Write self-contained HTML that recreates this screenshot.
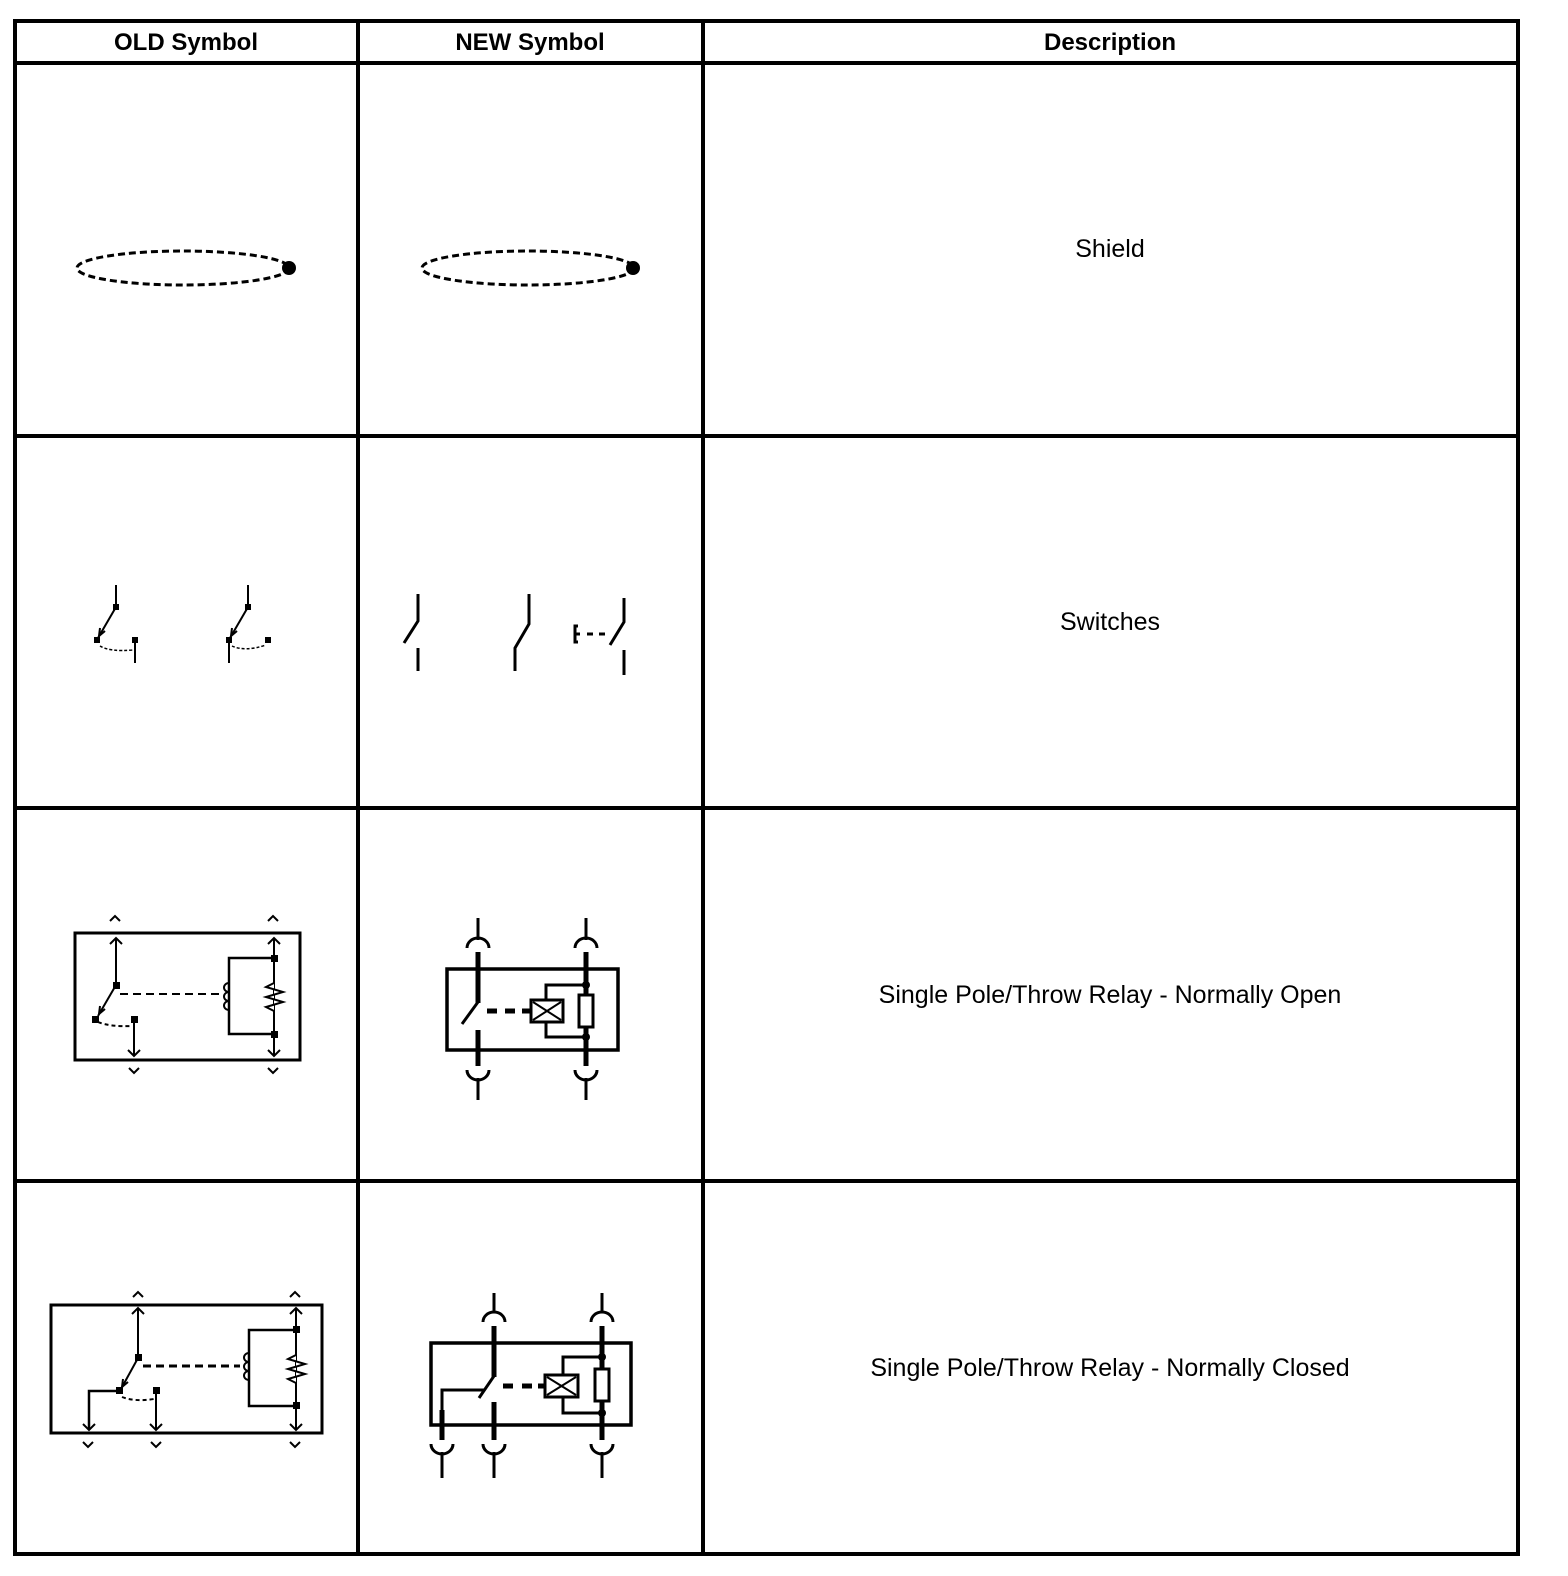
<!DOCTYPE html>
<html><head><meta charset="utf-8"><style>
html,body{margin:0;padding:0;background:#fff;overflow:hidden;}
svg{display:block;}
text{font-family:"Liberation Sans",sans-serif;fill:#000;}
</style></head><body>
<svg width="1568" height="1576" viewBox="0 0 1568 1576" xmlns="http://www.w3.org/2000/svg">
<g stroke="#000" stroke-width="4" fill="none">
<rect x="15" y="21" width="1503" height="1533"/>
<line x1="358" y1="21" x2="358" y2="1554"/>
<line x1="703" y1="21" x2="703" y2="1554"/>
<line x1="15" y1="63" x2="1518" y2="63"/>
<line x1="15" y1="436" x2="1518" y2="436"/>
<line x1="15" y1="808" x2="1518" y2="808"/>
<line x1="15" y1="1181" x2="1518" y2="1181"/>
</g>
<g font-size="24" font-weight="bold" text-anchor="middle">
<text x="186" y="50">OLD Symbol</text>
<text x="530" y="50">NEW Symbol</text>
<text x="1110" y="50">Description</text>
</g>
<g font-size="25" text-anchor="middle">
<text x="1110" y="257">Shield</text>
<text x="1110" y="630">Switches</text>
<text x="1110" y="1003">Single Pole/Throw Relay - Normally Open</text>
<text x="1110" y="1376">Single Pole/Throw Relay - Normally Closed</text>
</g>

<!-- Shields -->
<g stroke="#000" stroke-width="3" fill="none" stroke-dasharray="7,4">
<ellipse cx="183" cy="268" rx="106" ry="17"/>
<ellipse cx="528" cy="268" rx="106" ry="17"/>
</g>
<circle cx="289" cy="268" r="7"/>
<circle cx="633" cy="268" r="7"/>

<!-- Old switches -->
<g stroke="#000" stroke-width="2" fill="none">
<line x1="116" y1="585" x2="116" y2="607"/>
<line x1="116" y1="607" x2="98" y2="638"/>
<polyline points="100,628 99,636 105,631"/>
<line x1="135" y1="640" x2="135" y2="663"/>
<path d="M100,646 Q110,652 133,650" stroke-width="1.5" stroke-dasharray="3,2"/>
<line x1="248" y1="585" x2="248" y2="607"/>
<line x1="248" y1="607" x2="230" y2="638"/>
<polyline points="232,628 231,636 237,631"/>
<line x1="229" y1="640" x2="229" y2="663"/>
<path d="M232,646 Q245,652 266,645" stroke-width="1.5" stroke-dasharray="3,2"/>
</g>
<g fill="#000">
<rect x="113" y="604" width="6" height="6"/><rect x="94" y="637" width="6" height="6"/><rect x="132" y="637" width="6" height="6"/>
<rect x="245" y="604" width="6" height="6"/><rect x="226" y="637" width="6" height="6"/><rect x="265" y="637" width="6" height="6"/>
</g>

<!-- New switches -->
<g stroke="#000" stroke-width="3" fill="none">
<polyline points="418,594 418,621 404,643"/>
<line x1="418" y1="648" x2="418" y2="671"/>
<polyline points="529,594 529,624 515,648 515,671"/>
<polyline points="624,598 624,622 610,645"/>
<line x1="624" y1="650" x2="624" y2="675"/>
<polyline points="578,626 575,626 575,642 578,642"/>
<line x1="575" y1="634" x2="580" y2="634"/>
<line x1="587" y1="634" x2="593" y2="634"/>
<line x1="599" y1="634" x2="605" y2="634"/>
</g>

<!-- Old relay NO -->
<g stroke="#000" stroke-width="2" fill="none">
<rect x="75" y="933" width="225" height="127" stroke-width="3"/>
<polyline points="110,921 115,916 120,921"/><polyline points="268,921 273,916 278,921"/>
<polyline points="129,1068 134,1073 139,1068"/><polyline points="268,1068 273,1073 278,1068"/>
<line x1="116" y1="938" x2="116" y2="985"/><polyline points="110,944 116,938 122,944"/>
<line x1="116" y1="985" x2="98" y2="1016"/><polyline points="100,1006 99,1014 105,1009"/>
<line x1="134" y1="1019" x2="134" y2="1056"/><polyline points="128,1050 134,1056 140,1050"/>
<path d="M98,1022 Q110,1027 132,1026" stroke-dasharray="4,3"/>
<line x1="120" y1="994" x2="222" y2="994" stroke-dasharray="8,5"/>
<line x1="274" y1="938" x2="274" y2="1056"/><polyline points="268,944 274,938 280,944"/><polyline points="268,1050 274,1056 280,1050"/>
<polyline points="274,958 229,958 229,1034 274,1034" stroke-width="2.5"/>
<path d="M229,983 a5,4.5 0 0 0 0,9 a5,4.5 0 0 0 0,9 a5,4.5 0 0 0 0,9" stroke-width="2"/>
<polyline points="274,983 266,987 283,992 266,997 283,1002 266,1007 274,1011" fill="#fff"/>
</g>
<g fill="#000">
<rect x="271" y="955" width="7" height="7"/><rect x="271" y="1031" width="7" height="7"/>
<rect x="113" y="982" width="7" height="7"/><rect x="92" y="1016" width="7" height="7"/><rect x="131" y="1016" width="7" height="7"/>
</g>

<!-- New relay NO -->
<g stroke="#000" stroke-width="3" fill="none">
<rect x="447" y="969" width="171" height="81" stroke-width="3.5"/>
<line x1="478" y1="918" x2="478" y2="940"/><path d="M467,948 a11,10 0 0 1 22,0"/>
<line x1="478" y1="952" x2="478" y2="1003" stroke-width="5"/>
<line x1="478" y1="1002" x2="462" y2="1024"/>
<line x1="478" y1="1030" x2="478" y2="1066" stroke-width="5"/>
<path d="M467,1070 a11,10 0 0 0 22,0"/><line x1="478" y1="1078" x2="478" y2="1100"/>
<line x1="586" y1="918" x2="586" y2="940"/><path d="M575,948 a11,10 0 0 1 22,0"/>
<line x1="586" y1="952" x2="586" y2="1066" stroke-width="5"/>
<path d="M575,1070 a11,10 0 0 0 22,0"/><line x1="586" y1="1078" x2="586" y2="1100"/>
<polyline points="586,985 546,985 546,1037 586,1037"/>
<rect x="531" y="1000" width="32" height="22" fill="#fff"/>
<line x1="533" y1="1002" x2="561" y2="1020" stroke-width="2"/><line x1="533" y1="1020" x2="561" y2="1002" stroke-width="2"/>
<rect x="579" y="995" width="14" height="32" fill="#fff"/>
<g stroke-width="5"><line x1="487" y1="1011" x2="497" y2="1011"/><line x1="505" y1="1011" x2="515" y2="1011"/><line x1="522" y1="1011" x2="531" y2="1011"/></g>
</g>
<circle cx="586" cy="985" r="4"/><circle cx="586" cy="1037" r="4"/>

<!-- Old relay NC -->
<g stroke="#000" stroke-width="2" fill="none">
<rect x="51" y="1305" width="271" height="128" stroke-width="3"/>
<polyline points="133,1297 138,1292 143,1297"/><polyline points="290,1297 295,1292 300,1297"/>
<polyline points="83,1442 88,1447 93,1442"/><polyline points="151,1442 156,1447 161,1442"/><polyline points="290,1442 295,1447 300,1442"/>
<line x1="138" y1="1308" x2="138" y2="1358"/><polyline points="132,1314 138,1308 144,1314"/>
<line x1="138" y1="1358" x2="121" y2="1389"/><polyline points="123,1379 122,1387 128,1382"/>
<polyline points="119,1391 89,1391 89,1430" stroke-width="2.5"/><polyline points="83,1424 89,1430 95,1424"/>
<line x1="156" y1="1391" x2="156" y2="1430"/><polyline points="150,1424 156,1430 162,1424"/>
<path d="M122,1397 Q135,1402 154,1399" stroke-dasharray="4,3"/>
<line x1="143" y1="1366" x2="240" y2="1366" stroke-dasharray="8,5" stroke-width="3"/>
<line x1="296" y1="1308" x2="296" y2="1430"/><polyline points="290,1314 296,1308 302,1314"/><polyline points="290,1424 296,1430 302,1424"/>
<polyline points="296,1330 249,1330 249,1406 296,1406" stroke-width="2.5"/>
<path d="M249,1353 a5,4.5 0 0 0 0,9 a5,4.5 0 0 0 0,9 a5,4.5 0 0 0 0,9" stroke-width="2"/>
<polyline points="296,1355 288,1359 305,1364 288,1369 305,1374 288,1379 296,1383" fill="#fff"/>
</g>
<g fill="#000">
<rect x="293" y="1326" width="7" height="7"/><rect x="293" y="1402" width="7" height="7"/>
<rect x="135" y="1354" width="7" height="7"/><rect x="116" y="1387" width="7" height="7"/><rect x="153" y="1387" width="7" height="7"/>
</g>

<!-- New relay NC -->
<g stroke="#000" stroke-width="3" fill="none">
<rect x="431" y="1343" width="200" height="82" stroke-width="3.5"/>
<line x1="494" y1="1293" x2="494" y2="1313"/><path d="M483,1322 a11,10 0 0 1 22,0"/>
<line x1="494" y1="1326" x2="494" y2="1377" stroke-width="5"/>
<line x1="494" y1="1376" x2="479" y2="1398"/>
<polyline points="484,1390 442,1390 442,1440"/>
<line x1="442" y1="1410" x2="442" y2="1440" stroke-width="5"/>
<line x1="494" y1="1402" x2="494" y2="1440" stroke-width="5"/>
<path d="M431,1444 a11,10 0 0 0 22,0"/><line x1="442" y1="1452" x2="442" y2="1478"/>
<path d="M483,1444 a11,10 0 0 0 22,0"/><line x1="494" y1="1452" x2="494" y2="1478"/>
<line x1="602" y1="1293" x2="602" y2="1313"/><path d="M591,1322 a11,10 0 0 1 22,0"/>
<line x1="602" y1="1326" x2="602" y2="1440" stroke-width="5"/>
<path d="M591,1444 a11,10 0 0 0 22,0"/><line x1="602" y1="1452" x2="602" y2="1478"/>
<polyline points="602,1357 563,1357 563,1413 602,1413"/>
<rect x="545" y="1375" width="33" height="22" fill="#fff"/>
<line x1="547" y1="1377" x2="576" y2="1395" stroke-width="2"/><line x1="547" y1="1395" x2="576" y2="1377" stroke-width="2"/>
<rect x="595" y="1369" width="14" height="32" fill="#fff"/>
<g stroke-width="5"><line x1="503" y1="1386" x2="513" y2="1386"/><line x1="522" y1="1386" x2="532" y2="1386"/><line x1="538" y1="1386" x2="545" y2="1386"/></g>
</g>
<circle cx="602" cy="1357" r="4"/><circle cx="602" cy="1413" r="4"/>
</svg>
</body></html>
